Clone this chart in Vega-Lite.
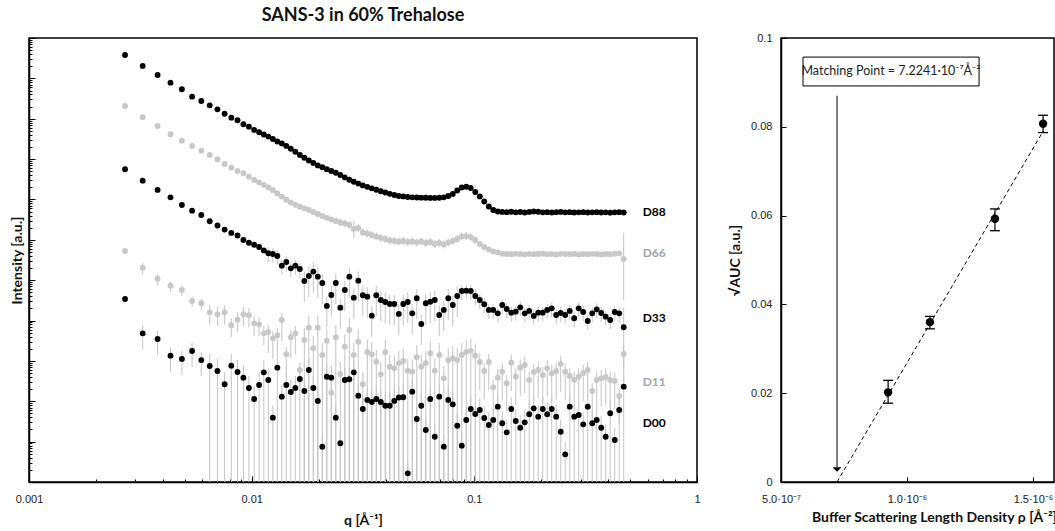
{
"$schema":"https://vega.github.io/schema/vega-lite/v6.json",
"background":"white",
"padding":{"left":9,"top":5,"right":0,"bottom":0},
"bounds":"flush",
"spacing":84,
"config":{"view":{"stroke":"#000","strokeWidth":1.5},
"axis":{"domainColor":"#000","domainWidth":1.5,"tickColor":"#000","tickWidth":1,"labelFont":"Liberation Sans","labelFontSize":11,"labelColor":"#222","titleFont":"Lato","titleFontSize":14,"titleFontWeight":"bold","titleColor":"#111","grid":false}},
"datasets":{
"sans":[
{"s":"D88","q":0.0027,"I":3.8e10},{"s":"D88","q":0.00324,"I":2.03e10},{"s":"D88","q":0.00378,"I":1.21e10},{"s":"D88","q":0.00432,"I":7.82e9},{"s":"D88","q":0.00486,"I":5.37e9},{"s":"D88","q":0.0054,"I":3.52e9},{"s":"D88","q":0.00594,"I":2.75e9},{"s":"D88","q":0.00648,"I":2.15e9},{"s":"D88","q":0.00702,"I":1.71e9},{"s":"D88","q":0.00756,"I":1.33e9},{"s":"D88","q":0.0081,"I":1.06e9},{"s":"D88","q":0.00864,"I":9.16e8},{"s":"D88","q":0.00918,"I":7.29e8},{"s":"D88","q":0.00972,"I":6.36e8},{"s":"D88","q":0.01026,"I":5.27e8},{"s":"D88","q":0.0108,"I":4.62e8},{"s":"D88","q":0.01134,"I":4.07e8},
{"s":"D88","q":0.01188,"I":3.61e8},{"s":"D88","q":0.01245,"I":3.15e8},{"s":"D88","q":0.01304,"I":2.73e8},{"s":"D88","q":0.01366,"I":2.45e8},{"s":"D88","q":0.01431,"I":2.12e8},{"s":"D88","q":0.01499,"I":1.8e8},{"s":"D88","q":0.01571,"I":1.52e8},{"s":"D88","q":0.01646,"I":1.26e8},{"s":"D88","q":0.01724,"I":1.08e8},{"s":"D88","q":0.01806,"I":9.25e7},
{"s":"D88","q":0.01892,"I":8.02e7},{"s":"D88","q":0.01982,"I":6.98e7},{"s":"D88","q":0.02076,"I":6.31e7},{"s":"D88","q":0.02175,"I":5.62e7},{"s":"D88","q":0.02279,"I":5.08e7},{"s":"D88","q":0.02387,"I":4.58e7},{"s":"D88","q":0.02501,"I":4.04e7},{"s":"D88","q":0.0262,"I":3.51e7},{"s":"D88","q":0.02745,"I":3.08e7},{"s":"D88","q":0.02875,"I":2.74e7},
{"s":"D88","q":0.03012,"I":2.47e7},{"s":"D88","q":0.03156,"I":2.23e7},{"s":"D88","q":0.03306,"I":2.05e7},{"s":"D88","q":0.03463,"I":1.89e7},{"s":"D88","q":0.03628,"I":1.74e7},{"s":"D88","q":0.03801,"I":1.6e7},{"s":"D88","q":0.03982,"I":1.49e7},{"s":"D88","q":0.04171,"I":1.38e7},{"s":"D88","q":0.0437,"I":1.29e7},{"s":"D88","q":0.04578,"I":1.22e7},
{"s":"D88","q":0.04796,"I":1.19e7},{"s":"D88","q":0.05024,"I":1.15e7},{"s":"D88","q":0.05263,"I":1.13e7},{"s":"D88","q":0.05514,"I":1.12e7},{"s":"D88","q":0.05777,"I":1.11e7},{"s":"D88","q":0.06052,"I":1.1e7},{"s":"D88","q":0.0634,"I":1.09e7},{"s":"D88","q":0.06642,"I":1.09e7},{"s":"D88","q":0.06958,"I":1.1e7},{"s":"D88","q":0.0729,"I":1.13e7},
{"s":"D88","q":0.07637,"I":1.22e7},{"s":"D88","q":0.08001,"I":1.37e7},{"s":"D88","q":0.08382,"I":1.67e7},{"s":"D88","q":0.08781,"I":1.98e7},{"s":"D88","q":0.09199,"I":2.06e7},{"s":"D88","q":0.09637,"I":1.92e7},{"s":"D88","q":0.101,"I":1.53e7},{"s":"D88","q":0.1058,"I":1.19e7},{"s":"D88","q":0.1108,"I":8.91e6},{"s":"D88","q":0.1161,"I":6.7e6},
{"s":"D88","q":0.1216,"I":5.48e6},{"s":"D88","q":0.1274,"I":5.04e6},{"s":"D88","q":0.1335,"I":4.9e6},{"s":"D88","q":0.1398,"I":4.85e6},{"s":"D88","q":0.1465,"I":4.95e6},{"s":"D88","q":0.1535,"I":4.8e6},{"s":"D88","q":0.1608,"I":4.9e6},{"s":"D88","q":0.1684,"I":4.75e6},{"s":"D88","q":0.1764,"I":4.9e6},{"s":"D88","q":0.1848,"I":5.05e6},
{"s":"D88","q":0.1936,"I":4.95e6},{"s":"D88","q":0.2029,"I":4.8e6},{"s":"D88","q":0.2125,"I":4.85e6},{"s":"D88","q":0.2226,"I":4.75e6},{"s":"D88","q":0.2332,"I":4.85e6},{"s":"D88","q":0.2443,"I":4.9e6},{"s":"D88","q":0.256,"I":4.8e6},{"s":"D88","q":0.2682,"I":4.85e6},{"s":"D88","q":0.2809,"I":4.75e6},{"s":"D88","q":0.2943,"I":4.8e6},
{"s":"D88","q":0.3083,"I":4.85e6},{"s":"D88","q":0.323,"I":4.75e6},{"s":"D88","q":0.3384,"I":4.8e6},{"s":"D88","q":0.3545,"I":4.85e6},{"s":"D88","q":0.3714,"I":4.75e6},{"s":"D88","q":0.389,"I":4.8e6},{"s":"D88","q":0.4076,"I":4.7e6},{"s":"D88","q":0.427,"I":4.8e6},{"s":"D88","q":0.4473,"I":4.85e6},{"s":"D88","q":0.4686,"I":4.75e6},

{"s":"D66","q":0.0027,"I":2.07e9},{"s":"D66","q":0.00324,"I":1.09e9},{"s":"D66","q":0.00378,"I":6.62e8},{"s":"D66","q":0.00432,"I":4.12e8},{"s":"D66","q":0.00486,"I":2.86e8},{"s":"D66","q":0.0054,"I":2.12e8},{"s":"D66","q":0.00594,"I":1.62e8},{"s":"D66","q":0.00648,"I":1.26e8},{"s":"D66","q":0.00702,"I":9.89e7},{"s":"D66","q":0.00756,"I":7.57e7},{"s":"D66","q":0.0081,"I":6.12e7},{"s":"D66","q":0.00864,"I":5.08e7},{"s":"D66","q":0.00918,"I":4.46e7},{"s":"D66","q":0.00972,"I":3.67e7},{"s":"D66","q":0.01026,"I":3.04e7},{"s":"D66","q":0.0108,"I":2.64e7},{"s":"D66","q":0.01134,"I":2.29e7},
{"s":"D66","q":0.01188,"I":1.98e7},{"s":"D66","q":0.01245,"I":1.69e7},{"s":"D66","q":0.01304,"I":1.41e7},{"s":"D66","q":0.01366,"I":1.18e7},{"s":"D66","q":0.01431,"I":9.82e6},{"s":"D66","q":0.01499,"I":8.41e6},{"s":"D66","q":0.01571,"I":7.38e6},{"s":"D66","q":0.01646,"I":6.62e6},{"s":"D66","q":0.01724,"I":6.04e6},{"s":"D66","q":0.01806,"I":5.48e6},
{"s":"D66","q":0.01892,"I":4.9e6},{"s":"D66","q":0.01982,"I":4.37e6},{"s":"D66","q":0.02076,"I":3.9e6},{"s":"D66","q":0.02175,"I":3.48e6},{"s":"D66","q":0.02279,"I":3.19e6},{"s":"D66","q":0.02387,"I":2.93e6},
{"s":"D66","q":0.02501,"I":2.69e6,"hi":3.36e6,"lo":2.15e6},{"s":"D66","q":0.0262,"I":2.54e6,"hi":3.18e6,"lo":2.03e6},{"s":"D66","q":0.02745,"I":2.33e6,"hi":2.91e6,"lo":1.86e6},{"s":"D66","q":0.02875,"I":1.86e6,"hi":3.0e6,"lo":1.1e6},
{"s":"D66","q":0.03012,"I":1.96e6,"hi":2.45e6,"lo":1.57e6},{"s":"D66","q":0.03156,"I":1.52e6,"hi":1.9e6,"lo":1.22e6},{"s":"D66","q":0.03306,"I":1.44e6,"hi":1.8e6,"lo":1.15e6},{"s":"D66","q":0.03463,"I":1.32e6,"hi":1.65e6,"lo":1.06e6},{"s":"D66","q":0.03628,"I":1.21e6,"hi":1.51e6,"lo":9.68e5},{"s":"D66","q":0.03801,"I":1.12e6,"hi":1.4e6,"lo":8.96e5},{"s":"D66","q":0.03982,"I":1.05e6,"hi":1.31e6,"lo":8.4e5},{"s":"D66","q":0.04171,"I":9.64e5,"hi":1.21e6,"lo":7.71e5},{"s":"D66","q":0.0437,"I":9.36e5,"hi":1.17e6,"lo":7.49e5},{"s":"D66","q":0.04578,"I":9.0e5,"hi":1.13e6,"lo":7.2e5},
{"s":"D66","q":0.04796,"I":9.36e5,"hi":1.17e6,"lo":7.49e5},{"s":"D66","q":0.05024,"I":8.84e5,"hi":1.11e6,"lo":7.07e5},{"s":"D66","q":0.05263,"I":9.1e5,"hi":1.14e6,"lo":7.28e5},{"s":"D66","q":0.05514,"I":8.59e5,"hi":1.07e6,"lo":6.87e5},{"s":"D66","q":0.05777,"I":9.1e5,"hi":1.14e6,"lo":7.28e5},{"s":"D66","q":0.06052,"I":8.36e5,"hi":1.05e6,"lo":6.69e5},{"s":"D66","q":0.0634,"I":8.84e5,"hi":1.11e6,"lo":7.07e5},{"s":"D66","q":0.06642,"I":7.89e5,"hi":9.86e5,"lo":6.31e5},{"s":"D66","q":0.06958,"I":8.36e5,"hi":1.05e6,"lo":6.69e5},{"s":"D66","q":0.0729,"I":7.67e5,"hi":9.59e5,"lo":6.14e5},
{"s":"D66","q":0.07637,"I":8.59e5,"hi":1.07e6,"lo":6.87e5},{"s":"D66","q":0.08001,"I":9.36e5,"hi":1.17e6,"lo":7.49e5},{"s":"D66","q":0.08382,"I":1.05e6,"hi":1.31e6,"lo":8.4e5},{"s":"D66","q":0.08781,"I":1.21e6,"hi":1.51e6,"lo":9.68e5},{"s":"D66","q":0.09199,"I":1.24e6,"hi":1.55e6,"lo":9.92e5},{"s":"D66","q":0.09637,"I":1.17e6,"hi":1.46e6,"lo":9.36e5},{"s":"D66","q":0.101,"I":9.91e5,"hi":1.24e6,"lo":7.93e5},
{"s":"D66","q":0.1058,"I":7.89e5},{"s":"D66","q":0.1108,"I":6.65e5},{"s":"D66","q":0.1161,"I":5.77e5},{"s":"D66","q":0.1216,"I":5.14e5},{"s":"D66","q":0.1274,"I":4.86e5},{"s":"D66","q":0.1335,"I":4.55e5},{"s":"D66","q":0.1398,"I":4.45e5},{"s":"D66","q":0.1465,"I":4.4e5},{"s":"D66","q":0.1535,"I":4.5e5},{"s":"D66","q":0.1608,"I":4.45e5},{"s":"D66","q":0.1684,"I":4.35e5},{"s":"D66","q":0.1764,"I":4.5e5},{"s":"D66","q":0.1848,"I":4.4e5},{"s":"D66","q":0.1936,"I":4.45e5},{"s":"D66","q":0.2029,"I":4.55e5},{"s":"D66","q":0.2125,"I":4.4e5},{"s":"D66","q":0.2226,"I":4.45e5},{"s":"D66","q":0.2332,"I":4.35e5},{"s":"D66","q":0.2443,"I":4.5e5},{"s":"D66","q":0.256,"I":4.45e5},{"s":"D66","q":0.2682,"I":4.4e5},{"s":"D66","q":0.2809,"I":4.5e5},{"s":"D66","q":0.2943,"I":4.35e5},{"s":"D66","q":0.3083,"I":4.45e5},{"s":"D66","q":0.323,"I":4.4e5},{"s":"D66","q":0.3384,"I":4.5e5},{"s":"D66","q":0.3545,"I":4.45e5},{"s":"D66","q":0.3714,"I":4.35e5},{"s":"D66","q":0.389,"I":4.45e5},{"s":"D66","q":0.4076,"I":4.4e5},{"s":"D66","q":0.427,"I":4.55e5},{"s":"D66","q":0.4473,"I":4.6e5},{"s":"D66","q":0.4686,"I":3.35e5,"hi":1.48e6,"lo":3.23e4},

{"s":"D33","q":0.0027,"I":5.6e7},{"s":"D33","q":0.00324,"I":2.92e7},{"s":"D33","q":0.00378,"I":1.72e7},{"s":"D33","q":0.00432,"I":1.13e7},{"s":"D33","q":0.00486,"I":7.3e6},{"s":"D33","q":0.0054,"I":5.27e6},{"s":"D33","q":0.00594,"I":4.12e6},
{"s":"D33","q":0.00648,"I":2.88e6,"hi":3.31e6,"lo":2.45e6},{"s":"D33","q":0.00702,"I":2.26e6,"hi":2.6e6,"lo":1.92e6},{"s":"D33","q":0.00756,"I":1.79e6,"hi":2.06e6,"lo":1.52e6},{"s":"D33","q":0.0081,"I":1.48e6,"hi":1.7e6,"lo":1.26e6},{"s":"D33","q":0.00864,"I":1.28e6,"hi":1.47e6,"lo":1.09e6},{"s":"D33","q":0.00918,"I":9.91e5,"hi":1.14e6,"lo":8.42e5},{"s":"D33","q":0.00972,"I":8.45e5,"hi":9.72e5,"lo":7.18e5},{"s":"D33","q":0.01026,"I":7.54e5,"hi":8.67e5,"lo":6.41e5},{"s":"D33","q":0.0108,"I":6.65e5,"hi":7.65e5,"lo":5.65e5},{"s":"D33","q":0.01134,"I":5.45e5,"hi":6.27e5,"lo":4.63e5},
{"s":"D33","q":0.01188,"I":4.64e5,"hi":6.5e5,"lo":2.78e5},{"s":"D33","q":0.01245,"I":4.46e5,"hi":6.24e5,"lo":2.68e5},{"s":"D33","q":0.01304,"I":3.98e5,"hi":5.57e5,"lo":2.39e5},{"s":"D33","q":0.01366,"I":2.29e5,"hi":3.21e5,"lo":1.37e5},{"s":"D33","q":0.01431,"I":2.82e5,"hi":3.95e5,"lo":1.69e5},{"s":"D33","q":0.01499,"I":1.97e5,"hi":2.76e5,"lo":1.18e5},{"s":"D33","q":0.01571,"I":2.29e5,"hi":3.21e5,"lo":1.37e5},{"s":"D33","q":0.01646,"I":1.89e5,"hi":2.65e5,"lo":1.13e5},
{"s":"D33","q":0.01724,"I":9.55e4,"hi":1.62e5,"lo":2.87e4},{"s":"D33","q":0.01806,"I":1.27e5,"hi":2.16e5,"lo":3.81e4},{"s":"D33","q":0.01892,"I":1.63e5,"hi":2.77e5,"lo":4.89e4},{"s":"D33","q":0.01982,"I":1.22e5,"hi":2.07e5,"lo":3.66e4},{"s":"D33","q":0.02076,"I":8.53e4,"hi":1.45e5,"lo":2.56e4},{"s":"D33","q":0.02175,"I":2.3e4,"hi":3.91e4,"lo":6.9e3},{"s":"D33","q":0.02279,"I":4.3e4,"hi":7.31e4,"lo":1.29e4},{"s":"D33","q":0.02387,"I":8.53e4,"hi":1.45e5,"lo":2.56e4},{"s":"D33","q":0.02501,"I":2.08e4,"hi":3.54e4,"lo":6.24e3},{"s":"D33","q":0.0262,"I":5.71e4,"hi":9.71e4,"lo":1.71e4},{"s":"D33","q":0.02745,"I":1.22e5,"hi":2.07e5,"lo":3.66e4},{"s":"D33","q":0.02875,"I":3.68e4,"hi":6.26e4,"lo":1.1e4},
{"s":"D33","q":0.03012,"I":9.72e4,"hi":1.65e5,"lo":2.92e4},{"s":"D33","q":0.03156,"I":4.23e4,"hi":7.19e4,"lo":1.27e4},{"s":"D33","q":0.03306,"I":3.9e4,"hi":6.63e4,"lo":1.17e4},{"s":"D33","q":0.03463,"I":1.32e4,"hi":2.24e4,"lo":3.96e3},{"s":"D33","q":0.03628,"I":4.23e4,"hi":7.19e4,"lo":1.27e4},{"s":"D33","q":0.03801,"I":3.23e4,"hi":5.49e4,"lo":9.69e3},{"s":"D33","q":0.03982,"I":2.88e4,"hi":4.9e4,"lo":8.64e3},{"s":"D33","q":0.04171,"I":2.57e4,"hi":4.37e4,"lo":7.71e3},{"s":"D33","q":0.0437,"I":2.57e4,"hi":4.37e4,"lo":7.71e3},{"s":"D33","q":0.04578,"I":1.46e4,"hi":2.48e4,"lo":4.38e3},
{"s":"D33","q":0.04796,"I":2.57e4,"hi":4.37e4,"lo":7.71e3},{"s":"D33","q":0.05024,"I":2.88e4,"hi":4.9e4,"lo":8.64e3},{"s":"D33","q":0.05263,"I":1.51e4,"hi":2.57e4,"lo":4.53e3},{"s":"D33","q":0.05514,"I":3.56e4,"hi":6.05e4,"lo":1.07e4},{"s":"D33","q":0.05777,"I":8.22e3,"hi":1.4e4,"lo":2.47e3},{"s":"D33","q":0.06052,"I":2.68e4,"hi":4.56e4,"lo":8.04e3},{"s":"D33","q":0.0634,"I":2.93e4,"hi":4.98e4,"lo":8.79e3},{"s":"D33","q":0.06642,"I":3.23e4,"hi":5.49e4,"lo":9.69e3},{"s":"D33","q":0.06958,"I":1.37e4,"hi":2.33e4,"lo":4.11e3},{"s":"D33","q":0.0729,"I":1.83e4,"hi":3.11e4,"lo":5.49e3},
{"s":"D33","q":0.07637,"I":3.56e4,"hi":6.05e4,"lo":1.07e4},{"s":"D33","q":0.08001,"I":2.43e4,"hi":4.13e4,"lo":7.29e3},{"s":"D33","q":0.08382,"I":4.06e4,"hi":6.9e4,"lo":1.22e4},{"s":"D33","q":0.08781,"I":5.4e4,"hi":7.56e4,"lo":3.24e4},{"s":"D33","q":0.09199,"I":5.5e4,"hi":7.7e4,"lo":3.3e4},{"s":"D33","q":0.09637,"I":5.4e4,"hi":7.56e4,"lo":3.24e4},{"s":"D33","q":0.101,"I":4.06e4,"hi":5.68e4,"lo":2.44e4},{"s":"D33","q":0.1058,"I":3.23e4,"hi":4.52e4,"lo":1.94e4},{"s":"D33","q":0.1108,"I":2.53e4,"hi":3.54e4,"lo":1.52e4},{"s":"D33","q":0.1161,"I":1.83e4,"hi":2.56e4,"lo":1.1e4},
{"s":"D33","q":0.1216,"I":1.83e4,"hi":2.56e4,"lo":1.1e4},{"s":"D33","q":0.1274,"I":1.51e4,"hi":2.11e4,"lo":9.06e3},{"s":"D33","q":0.1335,"I":2.43e4,"hi":3.4e4,"lo":1.46e4},{"s":"D33","q":0.1398,"I":1.93e4,"hi":2.7e4,"lo":1.16e4},{"s":"D33","q":0.1465,"I":1.57e4,"hi":2.2e4,"lo":9.42e3},{"s":"D33","q":0.1535,"I":1.66e4,"hi":2.32e4,"lo":9.96e3},{"s":"D33","q":0.1608,"I":2.13e4,"hi":2.98e4,"lo":1.28e4},{"s":"D33","q":0.1684,"I":1.51e4,"hi":2.11e4,"lo":9.06e3},{"s":"D33","q":0.1764,"I":1.73e4,"hi":2.42e4,"lo":1.04e4},{"s":"D33","q":0.1848,"I":1.3e4,"hi":1.82e4,"lo":7.8e3},
{"s":"D33","q":0.1936,"I":1.57e4,"hi":2.2e4,"lo":9.42e3},{"s":"D33","q":0.2029,"I":1.57e4,"hi":2.2e4,"lo":9.42e3},{"s":"D33","q":0.2125,"I":1.83e4,"hi":2.56e4,"lo":1.1e4},{"s":"D33","q":0.2226,"I":2.01e4,"hi":2.81e4,"lo":1.21e4},{"s":"D33","q":0.2332,"I":1.37e4,"hi":1.92e4,"lo":8.22e3},{"s":"D33","q":0.2443,"I":1.54e4,"hi":2.16e4,"lo":9.24e3},{"s":"D33","q":0.256,"I":1.37e4,"hi":1.92e4,"lo":8.22e3},{"s":"D33","q":0.2682,"I":1.73e4,"hi":2.42e4,"lo":1.04e4},{"s":"D33","q":0.2809,"I":1.14e4,"hi":1.6e4,"lo":6.84e3},{"s":"D33","q":0.2943,"I":2.01e4,"hi":2.81e4,"lo":1.21e4},
{"s":"D33","q":0.3083,"I":1.63e4,"hi":2.28e4,"lo":9.78e3},{"s":"D33","q":0.323,"I":9.75e3,"hi":1.37e4,"lo":5.85e3},{"s":"D33","q":0.3384,"I":1.51e4,"hi":2.11e4,"lo":9.06e3},{"s":"D33","q":0.3545,"I":1.9e4,"hi":2.66e4,"lo":1.14e4},{"s":"D33","q":0.3714,"I":1.54e4,"hi":2.16e4,"lo":9.24e3},{"s":"D33","q":0.389,"I":1.25e4,"hi":1.75e4,"lo":7.5e3},{"s":"D33","q":0.4076,"I":1.03e4,"hi":1.44e4,"lo":6.18e3},{"s":"D33","q":0.427,"I":1.63e4,"hi":2.28e4,"lo":9.78e3},{"s":"D33","q":0.4473,"I":1.51e4,"hi":2.11e4,"lo":9.06e3},{"s":"D33","q":0.4686,"I":6.81e3,"hi":2.04e4,"lo":681},

{"s":"D11","q":0.0027,"I":5.28e5},{"s":"D11","q":0.00324,"I":2.04e5,"hi":2.65e5,"lo":1.43e5},{"s":"D11","q":0.00378,"I":1.09e5,"hi":1.42e5,"lo":7.63e4},{"s":"D11","q":0.00432,"I":7.31e4,"hi":9.5e4,"lo":5.12e4},{"s":"D11","q":0.00486,"I":5.71e4,"hi":7.42e4,"lo":4.0e4},{"s":"D11","q":0.0054,"I":3.05e4,"hi":3.97e4,"lo":2.14e4},{"s":"D11","q":0.00594,"I":2.68e4,"hi":3.48e4,"lo":1.88e4},
{"s":"D11","q":0.00648,"I":1.6e4,"hi":2.4e4,"lo":8.0e3},{"s":"D11","q":0.00702,"I":1.43e4,"hi":2.15e4,"lo":7.15e3},{"s":"D11","q":0.00756,"I":1.6e4,"hi":2.4e4,"lo":8.0e3},{"s":"D11","q":0.0081,"I":7.64e3,"hi":1.15e4,"lo":3.82e3},{"s":"D11","q":0.00864,"I":1.05e4,"hi":1.58e4,"lo":5.25e3},{"s":"D11","q":0.00918,"I":1.43e4,"hi":2.15e4,"lo":7.15e3},{"s":"D11","q":0.00972,"I":1.35e4,"hi":2.03e4,"lo":6.75e3},{"s":"D11","q":0.01026,"I":8.55e3,"hi":1.28e4,"lo":4.28e3},{"s":"D11","q":0.0108,"I":8.07e3,"hi":1.21e4,"lo":4.04e3},{"s":"D11","q":0.01134,"I":4.83e3,"hi":7.25e3,"lo":2.42e3},
{"s":"D11","q":0.01188,"I":5.21e3,"hi":7.82e3,"lo":1.56e3},{"s":"D11","q":0.01245,"I":3.63e3,"hi":5.45e3,"lo":1.09e3},{"s":"D11","q":0.01304,"I":4.32e3,"hi":6.48e3,"lo":1.3e3},{"s":"D11","q":0.01366,"I":1.03e4,"hi":1.55e4,"lo":3.09e3},{"s":"D11","q":0.01431,"I":1.46e3,"hi":2.19e3,"lo":438},{"s":"D11","q":0.01499,"I":3.85e3,"hi":5.78e3,"lo":1.16e3},{"s":"D11","q":0.01571,"I":4.83e3,"hi":7.25e3,"lo":1.45e3},{"s":"D11","q":0.01646,"I":596,"hi":894,"lo":179},
{"s":"D11","q":0.01724,"I":3.3e3,"hi":6.6e3,"lo":0.1},{"s":"D11","q":0.01806,"I":6.65e3,"hi":1.33e4,"lo":0.1},{"s":"D11","q":0.01892,"I":2.06e3,"hi":4.12e3,"lo":0.1},{"s":"D11","q":0.01982,"I":6.65e3,"hi":1.33e4,"lo":0.1},{"s":"D11","q":0.02076,"I":1.4e3,"hi":2.8e3,"lo":0.1},{"s":"D11","q":0.02175,"I":3.17e3,"hi":6.34e3,"lo":0.1},{"s":"D11","q":0.02279,"I":163,"hi":326,"lo":0.1},{"s":"D11","q":0.02387,"I":3.85e3,"hi":7.7e3,"lo":0.1},{"s":"D11","q":0.02501,"I":474,"hi":948,"lo":0.1},{"s":"D11","q":0.0262,"I":2.25e3,"hi":4.5e3,"lo":0.1},{"s":"D11","q":0.02745,"I":5.83e3,"hi":1.17e4,"lo":0.1},{"s":"D11","q":0.02875,"I":1.4e3,"hi":2.8e3,"lo":0.1},
{"s":"D11","q":0.03012,"I":2.99e3,"hi":5.98e3,"lo":0.1},{"s":"D11","q":0.03156,"I":264,"hi":528,"lo":0.1},{"s":"D11","q":0.03306,"I":1.66e3,"hi":3.32e3,"lo":0.1},{"s":"D11","q":0.03463,"I":1.46e3,"hi":2.92e3,"lo":0.1},{"s":"D11","q":0.03628,"I":957,"hi":1.91e3,"lo":0.1},{"s":"D11","q":0.03801,"I":466,"hi":932,"lo":0.1},{"s":"D11","q":0.03982,"I":1.64e3,"hi":3.28e3,"lo":0.1},{"s":"D11","q":0.04171,"I":719,"hi":1.44e3,"lo":0.1},{"s":"D11","q":0.0437,"I":656,"hi":1.31e3,"lo":0.1},{"s":"D11","q":0.04578,"I":873,"hi":1.75e3,"lo":0.1},
{"s":"D11","q":0.04796,"I":995,"hi":1.99e3,"lo":0.1},{"s":"D11","q":0.05024,"I":573,"hi":1.15e3,"lo":0.1},{"s":"D11","q":0.05263,"I":541,"hi":1.08e3,"lo":0.1},{"s":"D11","q":0.05514,"I":1.23e3,"hi":2.46e3,"lo":0.1},{"s":"D11","q":0.05777,"I":719,"hi":1.44e3,"lo":0.1},{"s":"D11","q":0.06052,"I":873,"hi":1.75e3,"lo":0.1},{"s":"D11","q":0.0634,"I":1.55e3,"hi":3.1e3,"lo":0.1},{"s":"D11","q":0.06642,"I":573,"hi":1.15e3,"lo":0.1},{"s":"D11","q":0.06958,"I":1.4e3,"hi":2.8e3,"lo":0.1},{"s":"D11","q":0.0729,"I":371,"hi":742,"lo":0.1},
{"s":"D11","q":0.07637,"I":1.05e3,"hi":2.1e3,"lo":0.1},{"s":"D11","q":0.08001,"I":1.16e3,"hi":2.32e3,"lo":0.1},{"s":"D11","q":0.08382,"I":1.05e3,"hi":2.1e3,"lo":0.1},{"s":"D11","q":0.08781,"I":1.4e3,"hi":2.8e3,"lo":0.1},{"s":"D11","q":0.09199,"I":1.66e3,"hi":3.32e3,"lo":0.1},{"s":"D11","q":0.09637,"I":1.79e3,"hi":3.58e3,"lo":0.1},{"s":"D11","q":0.101,"I":1.35e3,"hi":2.7e3,"lo":0.1},
{"s":"D11","q":0.1058,"I":940,"hi":1.5e3,"lo":188},{"s":"D11","q":0.1108,"I":562,"hi":899,"lo":112},{"s":"D11","q":0.1161,"I":940,"hi":1.5e3,"lo":188},{"s":"D11","q":0.1216,"I":222,"hi":355,"lo":44.4},{"s":"D11","q":0.1274,"I":384,"hi":614,"lo":76.8},{"s":"D11","q":0.1335,"I":541,"hi":866,"lo":108},{"s":"D11","q":0.1398,"I":279,"hi":446,"lo":55.8},{"s":"D11","q":0.1465,"I":904,"hi":1.45e3,"lo":181},{"s":"D11","q":0.1535,"I":406,"hi":650,"lo":81.2},{"s":"D11","q":0.1608,"I":679,"hi":1.09e3,"lo":136},{"s":"D11","q":0.1684,"I":792,"hi":1.27e3,"lo":158},{"s":"D11","q":0.1764,"I":337,"hi":539,"lo":67.4},{"s":"D11","q":0.1848,"I":531,"hi":850,"lo":106},
{"s":"D11","q":0.1936,"I":596,"hi":954,"lo":119},{"s":"D11","q":0.2029,"I":448,"hi":717,"lo":89.6},{"s":"D11","q":0.2125,"I":656,"hi":1.05e3,"lo":131},{"s":"D11","q":0.2226,"I":493,"hi":789,"lo":98.6},{"s":"D11","q":0.2332,"I":562,"hi":899,"lo":112},{"s":"D11","q":0.2443,"I":839,"hi":1.34e3,"lo":168},{"s":"D11","q":0.256,"I":541,"hi":866,"lo":108},{"s":"D11","q":0.2682,"I":423,"hi":677,"lo":84.6},{"s":"D11","q":0.2809,"I":337,"hi":539,"lo":67.4},{"s":"D11","q":0.2943,"I":406,"hi":650,"lo":81.2},
{"s":"D11","q":0.3083,"I":502,"hi":803,"lo":100},{"s":"D11","q":0.323,"I":596,"hi":954,"lo":119},{"s":"D11","q":0.3384,"I":180,"hi":288,"lo":36},{"s":"D11","q":0.3545,"I":337,"hi":539,"lo":67.4},{"s":"D11","q":0.3714,"I":371,"hi":594,"lo":74.2},{"s":"D11","q":0.389,"I":400,"hi":640,"lo":80},{"s":"D11","q":0.4076,"I":337,"hi":539,"lo":67.4},{"s":"D11","q":0.427,"I":318,"hi":509,"lo":63.6},{"s":"D11","q":0.4473,"I":135,"hi":216,"lo":27},{"s":"D11","q":0.4686,"I":1.48e3,"hi":2.37e3,"lo":296},

{"s":"D00","q":0.0027,"I":3.42e4,"hi":4.1e4,"lo":2.8e4},{"s":"D00","q":0.00324,"I":4.83e3,"hi":7.73e3,"lo":1.93e3},{"s":"D00","q":0.00378,"I":3.49e3,"hi":5.58e3,"lo":1.4e3},{"s":"D00","q":0.00432,"I":1.35e3,"hi":2.16e3,"lo":540},{"s":"D00","q":0.00486,"I":1.12e3,"hi":1.79e3,"lo":448},{"s":"D00","q":0.0054,"I":1.76e3,"hi":2.82e3,"lo":704},{"s":"D00","q":0.00594,"I":1.05e3,"hi":1.68e3,"lo":420},
{"s":"D00","q":0.00648,"I":748,"hi":1496,"lo":0.1},{"s":"D00","q":0.00702,"I":562,"hi":1124,"lo":0.1},{"s":"D00","q":0.00756,"I":264,"hi":528,"lo":0.1},{"s":"D00","q":0.0081,"I":762,"hi":1524,"lo":0.1},{"s":"D00","q":0.00864,"I":531,"hi":1062,"lo":0.1},{"s":"D00","q":0.00918,"I":384,"hi":768,"lo":0.1},{"s":"D00","q":0.00972,"I":213,"hi":426,"lo":0.1},{"s":"D00","q":0.01026,"I":114,"hi":228,"lo":0.1},{"s":"D00","q":0.0108,"I":253,"hi":506,"lo":0.1},{"s":"D00","q":0.01134,"I":522,"hi":1044,"lo":0.1},
{"s":"D00","q":0.01188,"I":337,"hi":674,"lo":0.1},{"s":"D00","q":0.01245,"I":39.2,"hi":78.4,"lo":0.1},{"s":"D00","q":0.01304,"I":679,"hi":1358,"lo":0.1},{"s":"D00","q":0.01366,"I":130,"hi":260,"lo":0.1},{"s":"D00","q":0.01431,"I":253,"hi":506,"lo":0.1},{"s":"D00","q":0.01499,"I":170,"hi":340,"lo":0.1},{"s":"D00","q":0.01571,"I":213,"hi":426,"lo":0.1},{"s":"D00","q":0.01646,"I":356,"hi":712,"lo":0.1},{"s":"D00","q":0.01724,"I":180,"hi":360,"lo":0.1},{"s":"D00","q":0.01806,"I":596,"hi":1192,"lo":0.1},
{"s":"D00","q":0.01892,"I":213,"hi":426,"lo":0.1},{"s":"D00","q":0.01982,"I":102,"hi":204,"lo":0.1},{"s":"D00","q":0.02076,"I":7.5,"hi":15,"lo":0.1},{"s":"D00","q":0.02175,"I":406,"hi":812,"lo":0.1},{"s":"D00","q":0.02279,"I":384,"hi":768,"lo":0.1},{"s":"D00","q":0.02387,"I":39.2,"hi":78.4,"lo":0.1},{"s":"D00","q":0.02501,"I":9.1,"hi":18.2,"lo":0.1},{"s":"D00","q":0.0262,"I":337,"hi":674,"lo":0.1},{"s":"D00","q":0.02745,"I":351,"hi":702,"lo":0.1},{"s":"D00","q":0.02875,"I":522,"hi":1044,"lo":0.1},
{"s":"D00","q":0.03012,"I":137,"hi":274,"lo":0.1},{"s":"D00","q":0.03156,"I":64.4,"hi":128.8,"lo":0.1},{"s":"D00","q":0.03306,"I":108,"hi":216,"lo":0.1},{"s":"D00","q":0.03463,"I":95.9,"hi":191.8,"lo":0.1},{"s":"D00","q":0.03628,"I":114,"hi":228,"lo":0.1},{"s":"D00","q":0.03801,"I":95.9,"hi":191.8,"lo":0.1},{"s":"D00","q":0.03982,"I":77.6,"hi":155.2,"lo":0.1},{"s":"D00","q":0.04171,"I":77.6,"hi":155.2,"lo":0.1},{"s":"D00","q":0.0437,"I":102,"hi":204,"lo":0.1},{"s":"D00","q":0.04578,"I":124,"hi":248,"lo":0.1},
{"s":"D00","q":0.04796,"I":126,"hi":252,"lo":0.1},{"s":"D00","q":0.05024,"I":1.64,"hi":3.28,"lo":0.1},{"s":"D00","q":0.05263,"I":173,"hi":346,"lo":0.1},{"s":"D00","q":0.05514,"I":36.4,"hi":72.8,"lo":0.1},{"s":"D00","q":0.05777,"I":77.6,"hi":155.2,"lo":0.1},{"s":"D00","q":0.06052,"I":19.4,"hi":38.8,"lo":0.1},{"s":"D00","q":0.0634,"I":114,"hi":228,"lo":0.1},{"s":"D00","q":0.06642,"I":13.2,"hi":26.4,"lo":0.1},{"s":"D00","q":0.06958,"I":130,"hi":260,"lo":0.1},{"s":"D00","q":0.0729,"I":7.5,"hi":15,"lo":0.1},
{"s":"D00","q":0.07637,"I":108,"hi":216,"lo":0.1},{"s":"D00","q":0.08001,"I":84.1,"hi":168.2,"lo":0.1},{"s":"D00","q":0.08382,"I":24.8,"hi":49.6,"lo":0.1},{"s":"D00","q":0.08781,"I":7.93,"hi":15.86,"lo":0.1},{"s":"D00","q":0.09199,"I":34.4,"hi":68.8,"lo":0.1},{"s":"D00","q":0.09637,"I":64.4,"hi":128.8,"lo":0.1},{"s":"D00","q":0.101,"I":48.4,"hi":96.8,"lo":0.1},{"s":"D00","q":0.1058,"I":60.8,"hi":121.6,"lo":0.1},{"s":"D00","q":0.1108,"I":38.5,"hi":77,"lo":0.1},{"s":"D00","q":0.1161,"I":25.8,"hi":51.6,"lo":0.1},
{"s":"D00","q":0.1216,"I":34.4,"hi":68.8,"lo":0.1},{"s":"D00","q":0.1274,"I":73.4,"hi":146.8,"lo":0.1},{"s":"D00","q":0.1335,"I":28.5,"hi":57,"lo":0.1},{"s":"D00","q":0.1398,"I":17,"hi":34,"lo":0.1},{"s":"D00","q":0.1465,"I":64.4,"hi":128.8,"lo":0.1},{"s":"D00","q":0.1535,"I":32.5,"hi":65,"lo":0.1},{"s":"D00","q":0.1608,"I":22.1,"hi":44.2,"lo":0.1},{"s":"D00","q":0.1684,"I":30.1,"hi":60.2,"lo":0.1},{"s":"D00","q":0.1764,"I":47.6,"hi":95.2,"lo":0.1},{"s":"D00","q":0.1848,"I":67,"hi":134,"lo":0.1},
{"s":"D00","q":0.1936,"I":41.5,"hi":83,"lo":0.1},{"s":"D00","q":0.2029,"I":64.4,"hi":128.8,"lo":0.1},{"s":"D00","q":0.2125,"I":47.6,"hi":95.2,"lo":0.1},{"s":"D00","q":0.2226,"I":64.4,"hi":128.8,"lo":0.1},{"s":"D00","q":0.2332,"I":41.5,"hi":83,"lo":0.1},{"s":"D00","q":0.2443,"I":17.6,"hi":35.2,"lo":0.1},{"s":"D00","q":0.256,"I":4.85,"hi":9.7,"lo":0.1},{"s":"D00","q":0.2682,"I":73.4,"hi":146.8,"lo":0.1},{"s":"D00","q":0.2809,"I":41.5,"hi":83,"lo":0.1},{"s":"D00","q":0.2943,"I":45.7,"hi":91.4,"lo":0.1},
{"s":"D00","q":0.3083,"I":26.9,"hi":53.8,"lo":0.1},{"s":"D00","q":0.323,"I":73.4,"hi":146.8,"lo":0.1},{"s":"D00","q":0.3384,"I":28.5,"hi":57,"lo":0.1},{"s":"D00","q":0.3545,"I":34.4,"hi":68.8,"lo":0.1},{"s":"D00","q":0.3714,"I":22.1,"hi":44.2,"lo":0.1},{"s":"D00","q":0.389,"I":13.2,"hi":26.4,"lo":0.1},{"s":"D00","q":0.4076,"I":50.4,"hi":100.8,"lo":0.1},{"s":"D00","q":0.427,"I":11,"hi":22,"lo":0.1},{"s":"D00","q":0.4473,"I":60.8,"hi":121.6,"lo":0.1},{"s":"D00","q":0.4686,"I":230,"hi":460,"lo":0.1}
],
"lab":[{"s":"D88","q":0.57,"I":4.81e6},{"s":"D66","q":0.57,"I":4.64e5},{"s":"D33","q":0.57,"I":1.16e4},{"s":"D11","q":0.57,"I":305},{"s":"D00","q":0.57,"I":28.5}],
"pts":[{"rho":9.25e-7,"v":0.0202,"lo":0.01775,"hi":0.0229},{"rho":1.091e-6,"v":0.036,"lo":0.0345,"hi":0.0373},{"rho":1.349e-6,"v":0.0593,"lo":0.0566,"hi":0.0615},{"rho":1.54e-6,"v":0.0807,"lo":0.0787,"hi":0.0826}],
"fit":[{"rho":7.2241e-7,"v":0},{"rho":1.54e-6,"v":0.079}],
"arrow":[{"rho":7.2241e-7,"v":0.087,"v2":0.0034,"tip":0.0028}],
"box":[{"rho":5.873e-7,"rho2":1.286e-6,"v":0.0892,"v2":0.0957}],
"note":[{"rho":9.36e-7,"v":0.0925,"label":"Matching Point = 7.2241·10⁻⁷Å⁻²"}]
},
"hconcat":[
{
"width":668,"height":444,
"title":{"text":"SANS-3 in 60% Trehalose","font":"Lato","fontSize":18,"fontWeight":"bold","color":"#111","offset":13},
"layer":[
{"data":{"name":"sans"},"transform":[{"filter":"isValid(datum.hi)"}],
"mark":{"type":"rule","color":"#c4c4c4","strokeWidth":1,"clip":true},
"encoding":{
"x":{"field":"q","type":"quantitative","title":"q [Å⁻¹]","scale":{"type":"log","domain":[0.001,1],"nice":false},
"axis":{"tickCount":10,"labelExpr":"abs(log(datum.value)/LN10-round(log(datum.value)/LN10))<0.001 ? format(datum.value,'~g') : ''","tickSize":{"condition":{"test":"abs(log(datum.value)/LN10-round(log(datum.value)/LN10))<0.001","value":-6},"value":-3},"labelPadding":17,"titlePadding":6,"labelOverlap":false,"labelFlush":false,"labelBound":false}},
"y":{"field":"lo","type":"quantitative","title":"Intensity [a.u.]","scale":{"type":"log","domain":[1,1e11],"nice":false},
"axis":{"tickCount":30,"labels":false,"tickSize":{"condition":{"test":"abs(log(datum.value)/LN10-round(log(datum.value)/LN10))<0.001","value":-6},"value":-3},"titlePadding":4}},
"y2":{"field":"hi"}}},
{"data":{"name":"sans"},
"mark":{"type":"point","filled":true,"size":34,"opacity":1},
"encoding":{
"x":{"field":"q","type":"quantitative","title":"q [Å⁻¹]","scale":{"type":"log","domain":[0.001,1],"nice":false}},
"y":{"field":"I","type":"quantitative","title":"Intensity [a.u.]","scale":{"type":"log","domain":[1,1e11],"nice":false}},
"color":{"field":"s","type":"nominal","scale":{"domain":["D88","D66","D33","D11","D00"],"range":["#000000","#c8c8c8","#000000","#c8c8c8","#000000"]},"legend":null}}},
{"data":{"name":"lab"},
"mark":{"type":"text","align":"left","baseline":"middle","font":"Lato","fontSize":12,"fontWeight":"bold"},
"encoding":{
"x":{"field":"q","type":"quantitative","title":"q [Å⁻¹]","scale":{"type":"log","domain":[0.001,1],"nice":false}},
"y":{"field":"I","type":"quantitative","title":"Intensity [a.u.]","scale":{"type":"log","domain":[1,1e11],"nice":false}},
"text":{"field":"s"},
"color":{"field":"s","type":"nominal","scale":{"domain":["D88","D66","D33","D11","D00"],"range":["#000000","#a6a6a6","#000000","#a6a6a6","#000000"]},"legend":null}}}
],
"resolve":{"scale":{"color":"independent"}}
},
{
"width":273,"height":444,
"layer":[
{"data":{"name":"fit"},
"mark":{"type":"line","color":"#000","strokeWidth":1,"strokeDash":[4,3]},
"encoding":{
"x":{"field":"rho","type":"quantitative","title":"Buffer Scattering Length Density ρ [Å⁻²]","scale":{"domain":[5e-7,1.5833e-6],"nice":false,"zero":false},
"axis":{"values":[5e-7,1e-6,1.5e-6],"labelExpr":"datum.value < 7e-7 ? '5.0·10⁻⁷' : datum.value < 1.2e-6 ? '1.0·10⁻⁶' : '1.5·10⁻⁶'","tickSize":-5,"labelPadding":16,"titlePadding":6,"titleX":153,"labelFlush":false,"labelOverlap":false}},
"y":{"field":"v","type":"quantitative","title":"√AUC [a.u.]","scale":{"domain":[0,0.1],"nice":false},
"axis":{"values":[0,0.02,0.04,0.06,0.08,0.1],"format":"~g","tickSize":-5,"labelPadding":14,"titlePadding":8}}}},
{"data":{"name":"arrow"},
"mark":{"type":"rule","color":"#555","strokeWidth":1.5},
"encoding":{
"x":{"field":"rho","type":"quantitative","title":"Buffer Scattering Length Density ρ [Å⁻²]","scale":{"domain":[5e-7,1.5833e-6],"nice":false,"zero":false}},
"y":{"field":"v","type":"quantitative","title":"√AUC [a.u.]","scale":{"domain":[0,0.1],"nice":false}},
"y2":{"field":"v2"}}},
{"data":{"name":"arrow"},
"mark":{"type":"point","shape":"M-1,-0.5L1,-0.5L0,0.5Z","filled":true,"color":"#000","size":81,"opacity":1},
"encoding":{
"x":{"field":"rho","type":"quantitative","title":"Buffer Scattering Length Density ρ [Å⁻²]","scale":{"domain":[5e-7,1.5833e-6],"nice":false,"zero":false}},
"y":{"field":"tip","type":"quantitative","title":"√AUC [a.u.]","scale":{"domain":[0,0.1],"nice":false}}}},
{"data":{"name":"box"},
"mark":{"type":"rect","fill":"#fff","stroke":"#000","strokeWidth":1},
"encoding":{
"x":{"field":"rho","type":"quantitative","title":"Buffer Scattering Length Density ρ [Å⁻²]","scale":{"domain":[5e-7,1.5833e-6],"nice":false,"zero":false}},
"x2":{"field":"rho2"},
"y":{"field":"v","type":"quantitative","title":"√AUC [a.u.]","scale":{"domain":[0,0.1],"nice":false}},
"y2":{"field":"v2"}}},
{"data":{"name":"note"},
"mark":{"type":"text","font":"Lato","fontSize":12.5,"color":"#222","align":"center","baseline":"middle"},
"encoding":{
"x":{"field":"rho","type":"quantitative","title":"Buffer Scattering Length Density ρ [Å⁻²]","scale":{"domain":[5e-7,1.5833e-6],"nice":false,"zero":false}},
"y":{"field":"v","type":"quantitative","title":"√AUC [a.u.]","scale":{"domain":[0,0.1],"nice":false}},
"text":{"field":"label"}}},
{"data":{"name":"pts"},
"mark":{"type":"rule","color":"#000","strokeWidth":1.2},
"encoding":{
"x":{"field":"rho","type":"quantitative","title":"Buffer Scattering Length Density ρ [Å⁻²]","scale":{"domain":[5e-7,1.5833e-6],"nice":false,"zero":false}},
"y":{"field":"lo","type":"quantitative","title":"√AUC [a.u.]","scale":{"domain":[0,0.1],"nice":false}},
"y2":{"field":"hi"}}},
{"data":{"name":"pts"},
"mark":{"type":"tick","orient":"horizontal","size":10,"thickness":1.3,"color":"#000","opacity":1},
"encoding":{
"x":{"field":"rho","type":"quantitative","title":"Buffer Scattering Length Density ρ [Å⁻²]","scale":{"domain":[5e-7,1.5833e-6],"nice":false,"zero":false}},
"y":{"field":"lo","type":"quantitative","title":"√AUC [a.u.]","scale":{"domain":[0,0.1],"nice":false}}}},
{"data":{"name":"pts"},
"mark":{"type":"tick","orient":"horizontal","size":10,"thickness":1.3,"color":"#000","opacity":1},
"encoding":{
"x":{"field":"rho","type":"quantitative","title":"Buffer Scattering Length Density ρ [Å⁻²]","scale":{"domain":[5e-7,1.5833e-6],"nice":false,"zero":false}},
"y":{"field":"hi","type":"quantitative","title":"√AUC [a.u.]","scale":{"domain":[0,0.1],"nice":false}}}},
{"data":{"name":"pts"},
"mark":{"type":"point","filled":true,"size":70,"color":"#000","opacity":1},
"encoding":{
"x":{"field":"rho","type":"quantitative","title":"Buffer Scattering Length Density ρ [Å⁻²]","scale":{"domain":[5e-7,1.5833e-6],"nice":false,"zero":false}},
"y":{"field":"v","type":"quantitative","title":"√AUC [a.u.]","scale":{"domain":[0,0.1],"nice":false}}}}
]
}
]
}
